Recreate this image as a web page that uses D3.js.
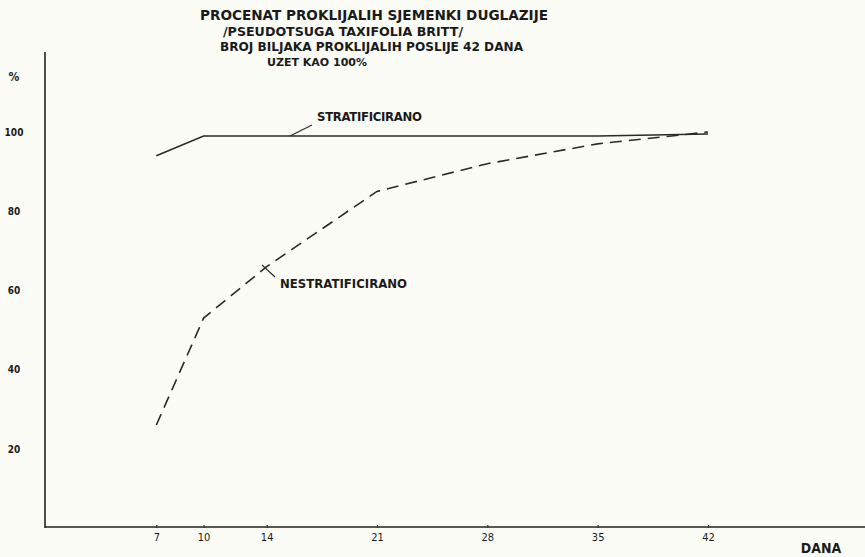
<!DOCTYPE html>
<html><head><meta charset="utf-8">
<script src="https://cdn.jsdelivr.net/npm/d3@7"></script>
<style>
html,body{margin:0;padding:0;background:#fcfcf7;}
svg{display:block;}
text{font-family:"DejaVu Sans Condensed","DejaVu Sans",sans-serif;font-stretch:condensed;fill:#1a1a1a;}
</style></head>
<body>
<script>
const days = [7, 10, 14, 21, 28, 35, 42];
const stratificirano = [94, 99, 99, 99, 99, 99, 99.5];
const nestratificirano = [26, 53, 66, 85, 92, 97, 100];
const yTicks = [20, 40, 60, 80, 100];
const titleLines = [
  "PROCENAT PROKLIJALIH SJEMENKI DUGLAZIJE",
  "/PSEUDOTSUGA TAXIFOLIA BRITT/",
  "BROJ BILJAKA PROKLIJALIH POSLIJE 42 DANA",
  "UZET KAO 100%"
];

const W = 865, H = 557;
const svg = d3.select("body").append("svg").attr("width", W).attr("height", H);

const x = d3.scaleLinear().domain([0, 42]).range([46, 708]);
const y = d3.scaleLinear().domain([0, 100]).range([528, 132]);

// axes lines
svg.append("line").attr("x1", 45).attr("x2", 45).attr("y1", 52).attr("y2", 528)
  .attr("stroke", "#222").attr("stroke-width", 1.6);
svg.append("line").attr("x1", 45).attr("x2", 865).attr("y1", 527).attr("y2", 527)
  .attr("stroke", "#222").attr("stroke-width", 1.4);

// x axis ticks via d3 axis
const xAxis = d3.axisBottom(x).tickValues(days).tickSize(3).tickPadding(5).tickFormat(d3.format("d"));
const gx = svg.append("g").attr("transform", "translate(0,525)").call(xAxis);
gx.select(".domain").remove();
gx.selectAll(".tick line").attr("stroke", "#333").attr("stroke-width", 1.2);
gx.selectAll("text").attr("font-size", 11).attr("fill", "#222")
  .style("font-family", '"DejaVu Sans Condensed","DejaVu Sans",sans-serif').style("font-stretch", "condensed");

svg.append("text").attr("x", 821).attr("y", 553).attr("text-anchor", "middle")
  .attr("font-size", 14).attr("font-weight", "bold").text("DANA");

// y axis labels
const yAxis = d3.axisLeft(y).tickValues(yTicks).tickSize(0).tickPadding(24);
const gy = svg.append("g").attr("transform", "translate(45,0)").call(yAxis);
gy.select(".domain").remove();
gy.selectAll("text").attr("font-size", 10).attr("font-weight", "bold").attr("text-anchor", "middle")
  .attr("x", -31).attr("fill", "#222")
  .style("font-family", '"DejaVu Sans Condensed","DejaVu Sans",sans-serif').style("font-stretch", "condensed");
svg.append("text").attr("x", 14).attr("y", 81).attr("text-anchor", "middle")
  .attr("font-size", 12).attr("font-weight", "bold").text("%");

// lines
const line = d3.line().x(d => x(d[0])).y(d => y(d[1]));
svg.append("path").datum(days.map((d, i) => [d, stratificirano[i]]))
  .attr("d", line).attr("fill", "none").attr("stroke", "#2a2a2a").attr("stroke-width", 1.6);
svg.append("path").datum(days.map((d, i) => [d, nestratificirano[i]]))
  .attr("d", line).attr("fill", "none").attr("stroke", "#2a2a2a").attr("stroke-width", 1.6)
  .attr("stroke-dasharray", "12,7");

// series labels with leaders
svg.append("line").attr("x1", 290).attr("y1", y(99)).attr("x2", 312).attr("y2", 125)
  .attr("stroke", "#2a2a2a").attr("stroke-width", 1.2);
svg.append("text").attr("x", 317).attr("y", 121).attr("font-size", 13).attr("font-weight", "bold")
  .attr("textLength", 105).text("STRATIFICIRANO");
svg.append("line").attr("x1", 262).attr("y1", 265).attr("x2", 275).attr("y2", 277)
  .attr("stroke", "#2a2a2a").attr("stroke-width", 1.2);
svg.append("text").attr("x", 280).attr("y", 288).attr("font-size", 13).attr("font-weight", "bold")
  .attr("textLength", 127).text("NESTRATIFICIRANO");

// title
const tpos = [[200, 20, 14, 348], [223, 36, 12, 240], [220, 51, 12, 303], [267, 66, 11, 100]];
titleLines.forEach((t, i) => {
  svg.append("text").attr("x", tpos[i][0]).attr("y", tpos[i][1])
    .attr("font-size", tpos[i][2]).attr("font-weight", "bold")
    .attr("textLength", tpos[i][3]).attr("lengthAdjust", "spacingAndGlyphs").text(t);
});
</script>
</body></html>
